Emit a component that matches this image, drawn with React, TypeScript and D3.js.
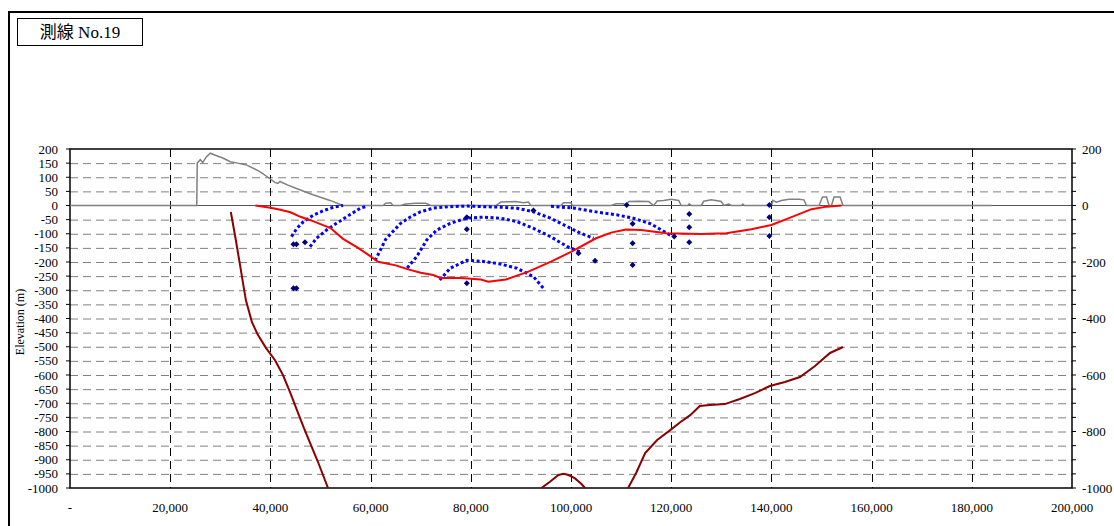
import { useEffect, useRef } from 'react'
import * as d3 from 'd3'

// x = distance along the line (m), y = elevation (m)
const xTicks = [0, 20000, 40000, 60000, 80000, 100000, 120000, 140000, 160000, 180000, 200000]
const leftTicks = d3.range(200, -1001, -50)
const rightTicks = [200, 0, -200, -400, -600, -800, -1000]

const topo: [number, number][] = [
  [0, 0], [25300, 0], [25400, 150], [26000, 162], [26500, 152], [27200, 172], [28000, 185],
  [29000, 178], [30500, 168], [32000, 155], [33500, 150], [35300, 143], [37900, 120], [39500, 100],
  [40900, 82], [41500, 78], [41900, 85], [43500, 72], [45200, 60], [48500, 38], [51900, 18],
  [54500, 0], [62500, 0], [63000, 8], [64000, 10], [64500, 0], [66000, 0], [67000, 5], [69000, 8],
  [71000, 8], [72000, 0], [85000, 0], [86000, 12], [89000, 14], [90500, 10], [91500, 12], [92000, 0],
  [98000, 0], [98500, 10], [100000, 10], [100300, 0], [108000, 0], [109000, 6], [110500, 6],
  [111000, 0], [111500, 14], [113500, 15], [115500, 14], [116500, 0], [117200, 16], [118500, 18],
  [120000, 22], [121500, 18], [122000, 0], [123300, 0], [123600, 6], [124000, 0], [126000, 0],
  [126500, 15], [128000, 20], [130000, 14], [130500, 0], [131500, 5], [132000, 0], [134000, 0],
  [134300, 5], [134600, 0], [140000, 0], [140300, 18], [141000, 12], [142000, 18], [143500, 22],
  [145500, 22], [146500, 20], [147000, 0], [149500, 0], [150200, 30], [151000, 30], [151500, 0],
  [152000, 0], [152500, 30], [153700, 30], [154300, 0], [184000, 0],
]

const horizon: [number, number][] = [
  [37000, 0], [40000, -8], [42000, -15], [44000, -24], [46000, -40], [48000, -52], [50000, -66],
  [52000, -80], [54500, -118], [57500, -150], [60000, -180], [61500, -199], [65000, -212],
  [67500, -226], [70000, -238], [72500, -246], [74000, -257], [78000, -257], [82000, -262],
  [83500, -270], [87000, -262], [91500, -234], [96000, -199], [100000, -164], [105000, -116],
  [108000, -96], [111000, -85], [114000, -87], [119000, -98], [126000, -101], [131000, -98],
  [136000, -84], [140000, -69], [143000, -48], [148000, -13], [151000, -4], [154000, 0],
]

const basementWest: [number, number][] = [
  [32100, -23], [33100, -122], [34100, -228], [35100, -335], [36300, -412], [37500, -458],
  [39100, -504], [40900, -547], [42500, -600], [43900, -660], [45300, -724], [46700, -788],
  [48100, -848], [49500, -908], [50500, -954], [51500, -1000],
]
const basementMid: [number, number][] = [
  [94100, -1000], [95800, -978], [97500, -954], [98500, -950], [99500, -954], [100800, -966],
  [102100, -986], [102800, -1000],
]
const basementEast: [number, number][] = [
  [111400, -1000], [113000, -947], [114800, -876], [117200, -830], [119800, -795], [121800, -767],
  [123800, -742], [125700, -710], [127700, -706], [130700, -703], [133700, -685], [136700, -664],
  [139700, -639], [142700, -625], [145700, -607], [148700, -568], [151700, -522], [154300, -501],
]

const reflectorA: [number, number][] = [
  [44200, -110], [45300, -81], [46600, -57], [48600, -34], [50600, -18], [52600, -6], [54500, 0],
]
const reflectorB: [number, number][] = [
  [47900, -146], [49200, -116], [51200, -87], [53200, -63], [55200, -40], [57900, -10], [59000, -4],
]
const reflectorC: [number, number][] = [
  [60900, -195], [63000, -120], [66000, -63], [68000, -40], [70000, -22], [72600, -9],
  [76000, -4], [79300, -2], [82500, -4], [85900, -6], [89300, -10], [92500, -22], [95900, -45],
  [99300, -75], [101900, -98], [104500, -116],
]
const reflectorD: [number, number][] = [
  [67300, -221], [69200, -181], [71200, -122], [73200, -87], [75900, -63], [79200, -45],
  [82500, -41], [85900, -45], [89200, -57], [92500, -81], [95900, -110], [99300, -146], [101800, -164],
]
const reflectorE: [number, number][] = [
  [73800, -264], [75900, -222], [79200, -194], [82500, -198], [85900, -207], [89200, -222],
  [92500, -252], [94500, -293],
]
const reflectorF: [number, number][] = [
  [96000, -3], [100500, -9], [105800, -25], [109100, -33], [112400, -45], [115800, -64],
  [118400, -90], [119800, -105],
]

const picks: [number, number][] = [
  [44600, -137], [45200, -137], [46900, -130], [44600, -293], [45200, -293],
  [79200, -42], [79200, -84], [79200, -275], [92500, -18], [101500, -169], [104800, -196],
  [111100, 2], [112300, -65], [112300, -134], [112300, -211], [120600, -110],
  [123600, -30], [123600, -77], [123600, -130], [139600, 2], [139600, -42], [139600, -108],
]

const W = 1114
const H = 526
const serif = "'Liberation Serif', 'Times New Roman', 'DejaVu Serif', serif"

const App = () => {
  const svgRef = useRef<SVGSVGElement>(null)

  useEffect(() => {
    const svg = d3.select(svgRef.current)
    svg.selectAll('*').remove()

    const x = d3.scaleLinear().domain([0, 200000]).range([70, 1072])
    const y = d3.scaleLinear().domain([-1000, 200]).range([488, 149])

    // outer frame
    svg.append('line').attr('x1', 8).attr('x2', W).attr('y1', 12).attr('y2', 12)
      .attr('stroke', '#000').attr('stroke-width', 2)
    svg.append('line').attr('x1', 9).attr('x2', 9).attr('y1', 12).attr('y2', H)
      .attr('stroke', '#000').attr('stroke-width', 2)

    // title box
    svg.append('rect').attr('x', 17.5).attr('y', 18.5).attr('width', 125).attr('height', 27)
      .attr('fill', '#fff').attr('stroke', '#000').attr('stroke-width', 1)
    svg.append('text').attr('x', 80).attr('y', 38).attr('text-anchor', 'middle')
      .style('font-family', "'Liberation Serif', 'Noto Sans CJK JP', serif").style('font-size', '17px')
      .text('測線 No.19')

    const clip = svg.append('defs').append('clipPath').attr('id', 'plot')
    clip.append('rect').attr('x', 70).attr('y', 149).attr('width', 1002).attr('height', 339)

    // horizontal grid
    svg.append('g').selectAll('line')
      .data(leftTicks.filter(v => v !== 200 && v !== -1000 && v !== 0))
      .join('line')
      .attr('x1', 70).attr('x2', 1072)
      .attr('y1', d => y(d) + 0.5).attr('y2', d => y(d) + 0.5)
      .attr('stroke', '#808080').attr('stroke-width', 1).attr('stroke-dasharray', '8,5')

    // vertical grid
    svg.append('g').selectAll('line')
      .data(xTicks.slice(1, -1))
      .join('line')
      .attr('x1', d => Math.round(x(d)) + 0.5).attr('x2', d => Math.round(x(d)) + 0.5)
      .attr('y1', 149).attr('y2', 488)
      .attr('stroke', '#000').attr('stroke-width', 1).attr('stroke-dasharray', '8,5')

    // zero line
    svg.append('line').attr('x1', 70).attr('x2', 1072).attr('y1', y(0)).attr('y2', y(0))
      .attr('stroke', '#555').attr('stroke-width', 1)

    // plot frame
    svg.append('rect').attr('x', 70).attr('y', 149).attr('width', 1002).attr('height', 339)
      .attr('fill', 'none').attr('stroke', '#000').attr('stroke-width', 1.5)

    // axis ticks
    svg.append('g').selectAll('line').data(leftTicks).join('line')
      .attr('x1', 66).attr('x2', 70).attr('y1', d => y(d)).attr('y2', d => y(d))
      .attr('stroke', '#000')
    svg.append('g').selectAll('line').data(leftTicks).join('line')
      .attr('x1', 1072).attr('x2', 1076).attr('y1', d => y(d)).attr('y2', d => y(d))
      .attr('stroke', '#000')

    // tick labels
    svg.append('g').selectAll('text').data(leftTicks).join('text')
      .attr('x', 58).attr('y', d => y(d)).attr('dy', '0.35em').attr('text-anchor', 'end')
      .style('font-family', serif).style('font-size', '13px')
      .text(d => String(d))
    svg.append('g').selectAll('text').data(rightTicks).join('text')
      .attr('x', 1082).attr('y', d => y(d)).attr('dy', '0.35em').attr('text-anchor', 'start')
      .style('font-family', serif).style('font-size', '13px')
      .text(d => String(d))
    svg.append('g').selectAll('text').data(xTicks).join('text')
      .attr('x', d => x(d)).attr('y', 512).attr('text-anchor', 'middle')
      .style('font-family', serif).style('font-size', '13px')
      .text(d => (d === 0 ? '-' : d3.format(',')(d)))

    svg.append('text')
      .attr('transform', `translate(24,322) rotate(-90)`)
      .attr('text-anchor', 'middle')
      .style('font-family', serif).style('font-size', '12px')
      .text('Elevation (m)')

    const plot = svg.append('g').attr('clip-path', 'url(#plot)')
    const line = d3.line<[number, number]>().x(d => x(d[0])).y(d => y(d[1]))

    plot.append('path').attr('d', line(topo)).attr('fill', 'none')
      .attr('stroke', '#808080').attr('stroke-width', 1.5)

    const reflectors = [reflectorA, reflectorB, reflectorC, reflectorD, reflectorE, reflectorF]
    plot.append('g').selectAll('path').data(reflectors).join('path')
      .attr('d', d => line(d)).attr('fill', 'none')
      .attr('stroke', '#0000FF').attr('stroke-width', 3).attr('stroke-dasharray', '3,2.5')

    plot.append('path').attr('d', line(horizon)).attr('fill', 'none')
      .attr('stroke', '#FF0000').attr('stroke-width', 2)

    plot.append('g').selectAll('path').data([basementWest, basementMid, basementEast]).join('path')
      .attr('d', d => line(d)).attr('fill', 'none')
      .attr('stroke', '#8B0000').attr('stroke-width', 2)

    plot.append('g').selectAll('path').data(picks).join('path')
      .attr('transform', d => `translate(${x(d[0])},${y(d[1])}) rotate(45)`)
      .attr('d', d3.symbol(d3.symbolSquare, 18)())
      .attr('fill', '#000080')
  }, [])

  return (
    <svg ref={svgRef} width={W} height={H}
      style={{ position: 'absolute', left: 0, top: 0, display: 'block', background: '#fff' }} />
  )
}

export default App
